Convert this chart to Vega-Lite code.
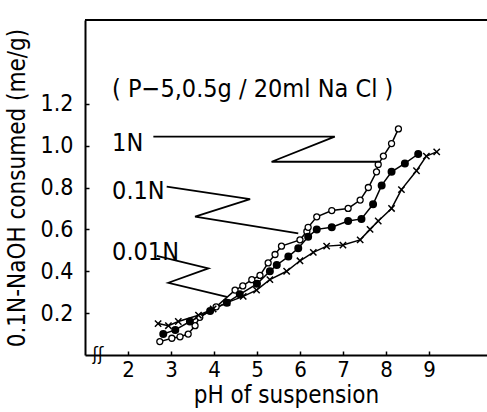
{
  "$schema": "https://vega.github.io/schema/vega-lite/v6.json",
  "autosize": "none",
  "width": 402,
  "height": 335,
  "padding": {"left": 85, "top": 20, "right": 0, "bottom": 57},
  "background": "white",
  "config": {
    "view": {"stroke": null},
    "font": "DejaVu Sans Condensed",
    "axis": {"domainColor": "black", "domainWidth": 2, "tickColor": "black", "tickWidth": 1.5, "labelColor": "black", "titleColor": "black", "grid": false, "labelFont": "DejaVu Sans Condensed", "titleFont": "DejaVu Sans Condensed", "titleFontWeight": "normal"}
  },
  "datasets": {
    "curves": [
      {"series": "1N", "pH": 2.74, "v": 0.064},
      {"series": "1N", "pH": 3.02, "v": 0.08},
      {"series": "1N", "pH": 3.21, "v": 0.087},
      {"series": "1N", "pH": 3.40, "v": 0.10},
      {"series": "1N", "pH": 3.56, "v": 0.14},
      {"series": "1N", "pH": 3.67, "v": 0.18},
      {"series": "1N", "pH": 4.05, "v": 0.23},
      {"series": "1N", "pH": 4.49, "v": 0.31},
      {"series": "1N", "pH": 4.67, "v": 0.33},
      {"series": "1N", "pH": 4.88, "v": 0.36},
      {"series": "1N", "pH": 5.07, "v": 0.38},
      {"series": "1N", "pH": 5.26, "v": 0.44},
      {"series": "1N", "pH": 5.42, "v": 0.48},
      {"series": "1N", "pH": 5.57, "v": 0.52},
      {"series": "1N", "pH": 6.0, "v": 0.55},
      {"series": "1N", "pH": 6.16, "v": 0.59},
      {"series": "1N", "pH": 6.19, "v": 0.61},
      {"series": "1N", "pH": 6.39, "v": 0.66},
      {"series": "1N", "pH": 6.74, "v": 0.69},
      {"series": "1N", "pH": 7.12, "v": 0.70},
      {"series": "1N", "pH": 7.40, "v": 0.74},
      {"series": "1N", "pH": 7.59, "v": 0.80},
      {"series": "1N", "pH": 7.78, "v": 0.875},
      {"series": "1N", "pH": 7.82, "v": 0.91},
      {"series": "1N", "pH": 7.94, "v": 0.95},
      {"series": "1N", "pH": 8.13, "v": 1.01},
      {"series": "1N", "pH": 8.29, "v": 1.08},
      {"series": "0.1N", "pH": 2.82, "v": 0.10},
      {"series": "0.1N", "pH": 3.10, "v": 0.12},
      {"series": "0.1N", "pH": 3.44, "v": 0.16},
      {"series": "0.1N", "pH": 3.91, "v": 0.21},
      {"series": "0.1N", "pH": 4.30, "v": 0.25},
      {"series": "0.1N", "pH": 4.60, "v": 0.29},
      {"series": "0.1N", "pH": 5.00, "v": 0.34},
      {"series": "0.1N", "pH": 5.30, "v": 0.40},
      {"series": "0.1N", "pH": 5.46, "v": 0.43},
      {"series": "0.1N", "pH": 5.73, "v": 0.47},
      {"series": "0.1N", "pH": 5.96, "v": 0.51},
      {"series": "0.1N", "pH": 6.19, "v": 0.565},
      {"series": "0.1N", "pH": 6.39, "v": 0.60},
      {"series": "0.1N", "pH": 6.74, "v": 0.61},
      {"series": "0.1N", "pH": 7.12, "v": 0.64},
      {"series": "0.1N", "pH": 7.43, "v": 0.65},
      {"series": "0.1N", "pH": 7.70, "v": 0.72},
      {"series": "0.1N", "pH": 7.90, "v": 0.81},
      {"series": "0.1N", "pH": 8.13, "v": 0.875},
      {"series": "0.1N", "pH": 8.44, "v": 0.915},
      {"series": "0.1N", "pH": 8.75, "v": 0.96},
      {"series": "0.01N", "pH": 2.70, "v": 0.15},
      {"series": "0.01N", "pH": 2.94, "v": 0.14},
      {"series": "0.01N", "pH": 3.17, "v": 0.16},
      {"series": "0.01N", "pH": 3.64, "v": 0.19},
      {"series": "0.01N", "pH": 3.98, "v": 0.22},
      {"series": "0.01N", "pH": 4.30, "v": 0.25},
      {"series": "0.01N", "pH": 4.68, "v": 0.28},
      {"series": "0.01N", "pH": 4.99, "v": 0.31},
      {"series": "0.01N", "pH": 5.30, "v": 0.36},
      {"series": "0.01N", "pH": 5.69, "v": 0.40},
      {"series": "0.01N", "pH": 6.0, "v": 0.45},
      {"series": "0.01N", "pH": 6.31, "v": 0.49},
      {"series": "0.01N", "pH": 6.62, "v": 0.52},
      {"series": "0.01N", "pH": 7.0, "v": 0.525},
      {"series": "0.01N", "pH": 7.40, "v": 0.55},
      {"series": "0.01N", "pH": 7.63, "v": 0.60},
      {"series": "0.01N", "pH": 7.82, "v": 0.64},
      {"series": "0.01N", "pH": 8.13, "v": 0.70},
      {"series": "0.01N", "pH": 8.36, "v": 0.79},
      {"series": "0.01N", "pH": 8.71, "v": 0.88},
      {"series": "0.01N", "pH": 8.94, "v": 0.95},
      {"series": "0.01N", "pH": 9.18, "v": 0.97}
    ],
    "leaders": [
      {"label": "1N", "k": 1, "pH": 2.59, "v": 1.043},
      {"label": "1N", "k": 2, "pH": 6.81, "v": 1.043},
      {"label": "1N", "k": 3, "pH": 5.34, "v": 0.923},
      {"label": "1N", "k": 4, "pH": 7.86, "v": 0.923},
      {"label": "0.1N", "k": 1, "pH": 2.90, "v": 0.804},
      {"label": "0.1N", "k": 2, "pH": 4.84, "v": 0.744},
      {"label": "0.1N", "k": 3, "pH": 3.56, "v": 0.661},
      {"label": "0.1N", "k": 4, "pH": 5.96, "v": 0.581},
      {"label": "0.01N", "k": 1, "pH": 2.67, "v": 0.473},
      {"label": "0.01N", "k": 2, "pH": 3.87, "v": 0.414},
      {"label": "0.01N", "k": 3, "pH": 2.94, "v": 0.345},
      {"label": "0.01N", "k": 4, "pH": 4.30, "v": 0.278}
    ],
    "labels": [
      {"text": "1N", "pH": 1.63, "v": 1.012},
      {"text": "0.1N", "pH": 1.63, "v": 0.783},
      {"text": "0.01N", "pH": 1.63, "v": 0.49},
      {"text": "( P−5,0.5g / 20ml Na Cl )", "pH": 1.63, "v": 1.27}
    ]
  },
  "layer": [
    {
      "data": {"name": "curves"},
      "mark": {"type": "line", "color": "black", "strokeWidth": 1.5},
      "encoding": {
        "x": {"field": "pH", "type": "quantitative", "scale": {"domain": [1, 10.35], "nice": false, "zero": false},
              "axis": {"values": [2, 3, 4, 5, 6, 7, 8, 9], "title": "pH of suspension", "titleFontSize": 24, "labelFontSize": 22, "tickSize": -4, "labelPadding": 8, "titlePadding": 3, "labelFlush": false}},
        "y": {"field": "v", "type": "quantitative", "scale": {"domain": [0, 1.6], "nice": false},
              "axis": {"values": [0.2, 0.4, 0.6, 0.8, 1.0, 1.2], "format": ".1f", "title": "0.1N-NaOH consumed (me/g)", "titleFontSize": 24, "labelFontSize": 23, "tickSize": -4, "labelPadding": 16, "titleX": -68, "titleBaseline": "middle", "labelFlush": false}},
        "detail": {"field": "series"}
      }
    },
    {
      "data": {"name": "curves"},
      "transform": [{"filter": "datum.series === '1N'"}],
      "mark": {"type": "point", "shape": "circle", "filled": true, "fill": "white", "stroke": "black", "strokeWidth": 1.3, "size": 36, "opacity": 1},
      "encoding": {"x": {"field": "pH", "type": "quantitative"}, "y": {"field": "v", "type": "quantitative"}}
    },
    {
      "data": {"name": "curves"},
      "transform": [{"filter": "datum.series === '0.1N'"}],
      "mark": {"type": "point", "shape": "circle", "filled": true, "fill": "black", "stroke": "black", "size": 36, "opacity": 1},
      "encoding": {"x": {"field": "pH", "type": "quantitative"}, "y": {"field": "v", "type": "quantitative"}}
    },
    {
      "data": {"name": "curves"},
      "transform": [{"filter": "datum.series === '0.01N'"}],
      "mark": {"type": "point", "shape": "M-1,-1L1,1M-1,1L1,-1", "filled": false, "stroke": "black", "strokeWidth": 1.5, "size": 40, "opacity": 1},
      "encoding": {"x": {"field": "pH", "type": "quantitative"}, "y": {"field": "v", "type": "quantitative"}}
    },
    {
      "data": {"name": "leaders"},
      "mark": {"type": "line", "color": "black", "strokeWidth": 1.8},
      "encoding": {
        "x": {"field": "pH", "type": "quantitative"},
        "y": {"field": "v", "type": "quantitative"},
        "detail": {"field": "label"},
        "order": {"field": "k", "type": "quantitative"}
      }
    },
    {
      "data": {"name": "labels"},
      "mark": {"type": "text", "align": "left", "baseline": "middle", "fontSize": 25, "color": "black", "font": "DejaVu Sans Condensed"},
      "encoding": {
        "x": {"field": "pH", "type": "quantitative"},
        "y": {"field": "v", "type": "quantitative"},
        "text": {"field": "text"}
      }
    },
    {
      "data": {"values": [{"pH": 1.0, "v": 1.6}, {"pH": 10.35, "v": 1.6}]},
      "mark": {"type": "line", "color": "black", "strokeWidth": 2},
      "encoding": {"x": {"field": "pH", "type": "quantitative"}, "y": {"field": "v", "type": "quantitative"}}
    },
    {
      "data": {"values": [{"text": "ʃʃ", "pH": 1.3, "v": 0.0}]},
      "mark": {"type": "text", "fontSize": 18, "color": "black", "baseline": "middle"},
      "encoding": {"x": {"field": "pH", "type": "quantitative"}, "y": {"field": "v", "type": "quantitative"}, "text": {"field": "text"}}
    }
  ]
}
